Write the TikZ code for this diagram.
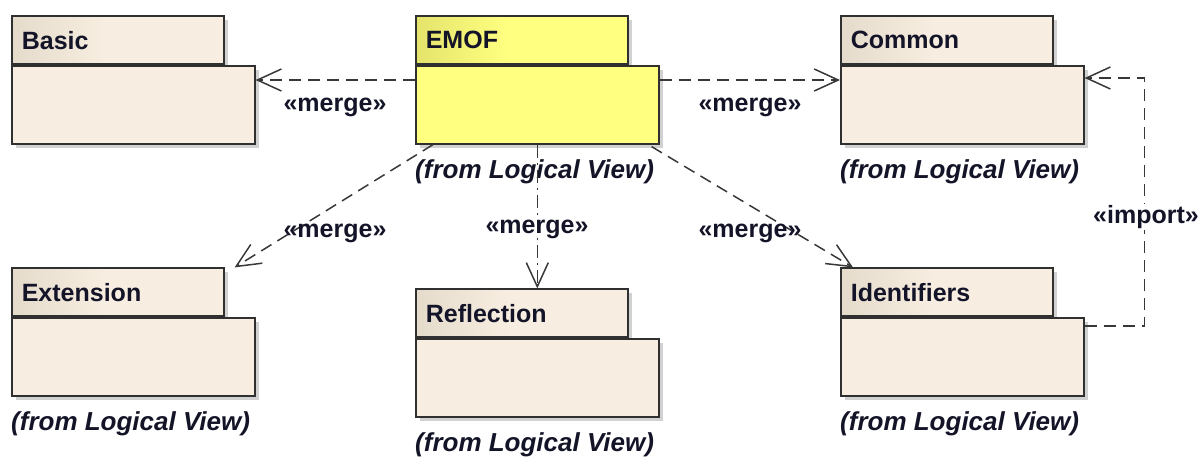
\documentclass[tikz,border=0pt]{standalone}
\usepackage{fontspec}
\setmainfont{Liberation Sans}
\usetikzlibrary{arrows.meta,shadows,calc}
\definecolor{pkgbody}{HTML}{F7EEE1}
\definecolor{pkgtabL}{HTML}{E4DBCB}
\definecolor{emofbody}{HTML}{FFFF80}
\definecolor{emoftabL}{HTML}{E4E46C}
\definecolor{edge}{HTML}{303030}
\definecolor{conn}{HTML}{383838}
\definecolor{txt}{HTML}{141428}
\pgfdeclarehorizontalshading{beigetab}{100bp}{color(0bp)=(pkgtabL); color(25bp)=(pkgtabL); color(47bp)=(pkgbody); color(100bp)=(pkgbody)}
\pgfdeclarehorizontalshading{yellowtab}{100bp}{color(0bp)=(emoftabL); color(25bp)=(emoftabL); color(47bp)=(emofbody); color(100bp)=(emofbody)}
\begin{document}
\begin{tikzpicture}[x=1pt,y=-1pt,
  pkgshadow/.style={drop shadow={shadow xshift=4pt,shadow yshift=-4pt,fill=black!40,opacity=0.45}},
  body/.style={draw=edge,line width=1.6pt,fill=pkgbody,minimum width=243pt,minimum height=78pt,
    anchor=north west,inner sep=0pt,pkgshadow},
  tab/.style={draw=edge,line width=1.6pt,shading=beigetab,
    minimum width=212pt,minimum height=48pt,anchor=south west,inner xsep=10pt,inner ysep=0pt,
    text width=192pt,align=left,font=\fontsize{25}{30}\selectfont\bfseries,text=txt,pkgshadow},
  emoftab/.style={tab,shading=yellowtab},
  emofbody/.style={body,fill=emofbody},
  fromlbl/.style={anchor=west,inner sep=0pt,font=\fontsize{26}{30}\selectfont\bfseries\itshape,text=txt},
  stereo/.style={inner sep=1pt,font=\fontsize{25}{30}\selectfont\bfseries,text=txt},
  dep/.style={draw=conn,line width=1.5pt,dash pattern=on 12pt off 7pt,
    -{Straight Barb[length=24pt,width=22pt]}},
  depdot/.style={dep,dash pattern=on 13pt off 5pt on 2pt off 5pt}
]
\useasboundingbox (0,0) rectangle (1204,456);

% Basic
\node[tab] (basict) at (11,65) {Basic};
\node[body] (basicb) at (11,65) {};
% EMOF
\node[emoftab] (emoft) at (415,65) {EMOF};
\node[emofbody] (emofb) at (415,65) {};
\node[fromlbl] (emoffrom) at ($(emofb.south west)+(0,27)$) {(from Logical View)};
% Common
\node[tab] (commont) at (840,65) {Common};
\node[body] (commonb) at (840,65) {};
\node[fromlbl] (commonfrom) at ($(commonb.south west)+(0,27)$) {(from Logical View)};
% Extension
\node[tab] (extt) at (11,317) {Extension};
\node[body] (extb) at (11,317) {};
\node[fromlbl] (extfrom) at ($(extb.south west)+(0,27)$) {(from Logical View)};
% Reflection
\node[tab] (reflt) at (415,338) {Reflection};
\node[body] (reflb) at (415,338) {};
\node[fromlbl] (reflfrom) at ($(reflb.south west)+(0,27)$) {(from Logical View)};
% Identifiers
\node[tab] (idt) at (840,317) {Identifiers};
\node[body] (idb) at (840,317) {};
\node[fromlbl] (idfrom) at ($(idb.south west)+(0,27)$) {(from Logical View)};

% connectors
\draw[dep] ($(emofb.north west)+(0,15)$) -- ($(basicb.north east)+(0,15)$);
\draw[dep] ($(emofb.north east)+(0,15)$) -- ($(commonb.north west)+(0,15)$);
\draw[dep] ($(emofb.south west)+(18,0)$) -- ($(extt.north east)+(10,0)$);
\draw[depdot] (emofb.south) -- (emofb.south |- reflt.north);
\draw[dep] ($(emofb.south east)+(-8,2)$) -- ($(idt.north west)+(13,0)$);
\draw[dep] ($(idb.north east)+(0,9)$) -- ++(60,0) |- ($(commonb.north east)+(0,13)$);

% labels
\node[stereo] (m1) at (335,107) {«merge»};
\node[stereo] (m2) at (750,107) {«merge»};
\node[stereo] (m3) at (335,233) {«merge»};
\node[stereo] (m4) at (537,229) {«merge»};
\node[stereo] (m5) at (750,233) {«merge»};
\node[stereo,fill=white] (imp) at (1146,217) {«import»};
\end{tikzpicture}
\end{document}
